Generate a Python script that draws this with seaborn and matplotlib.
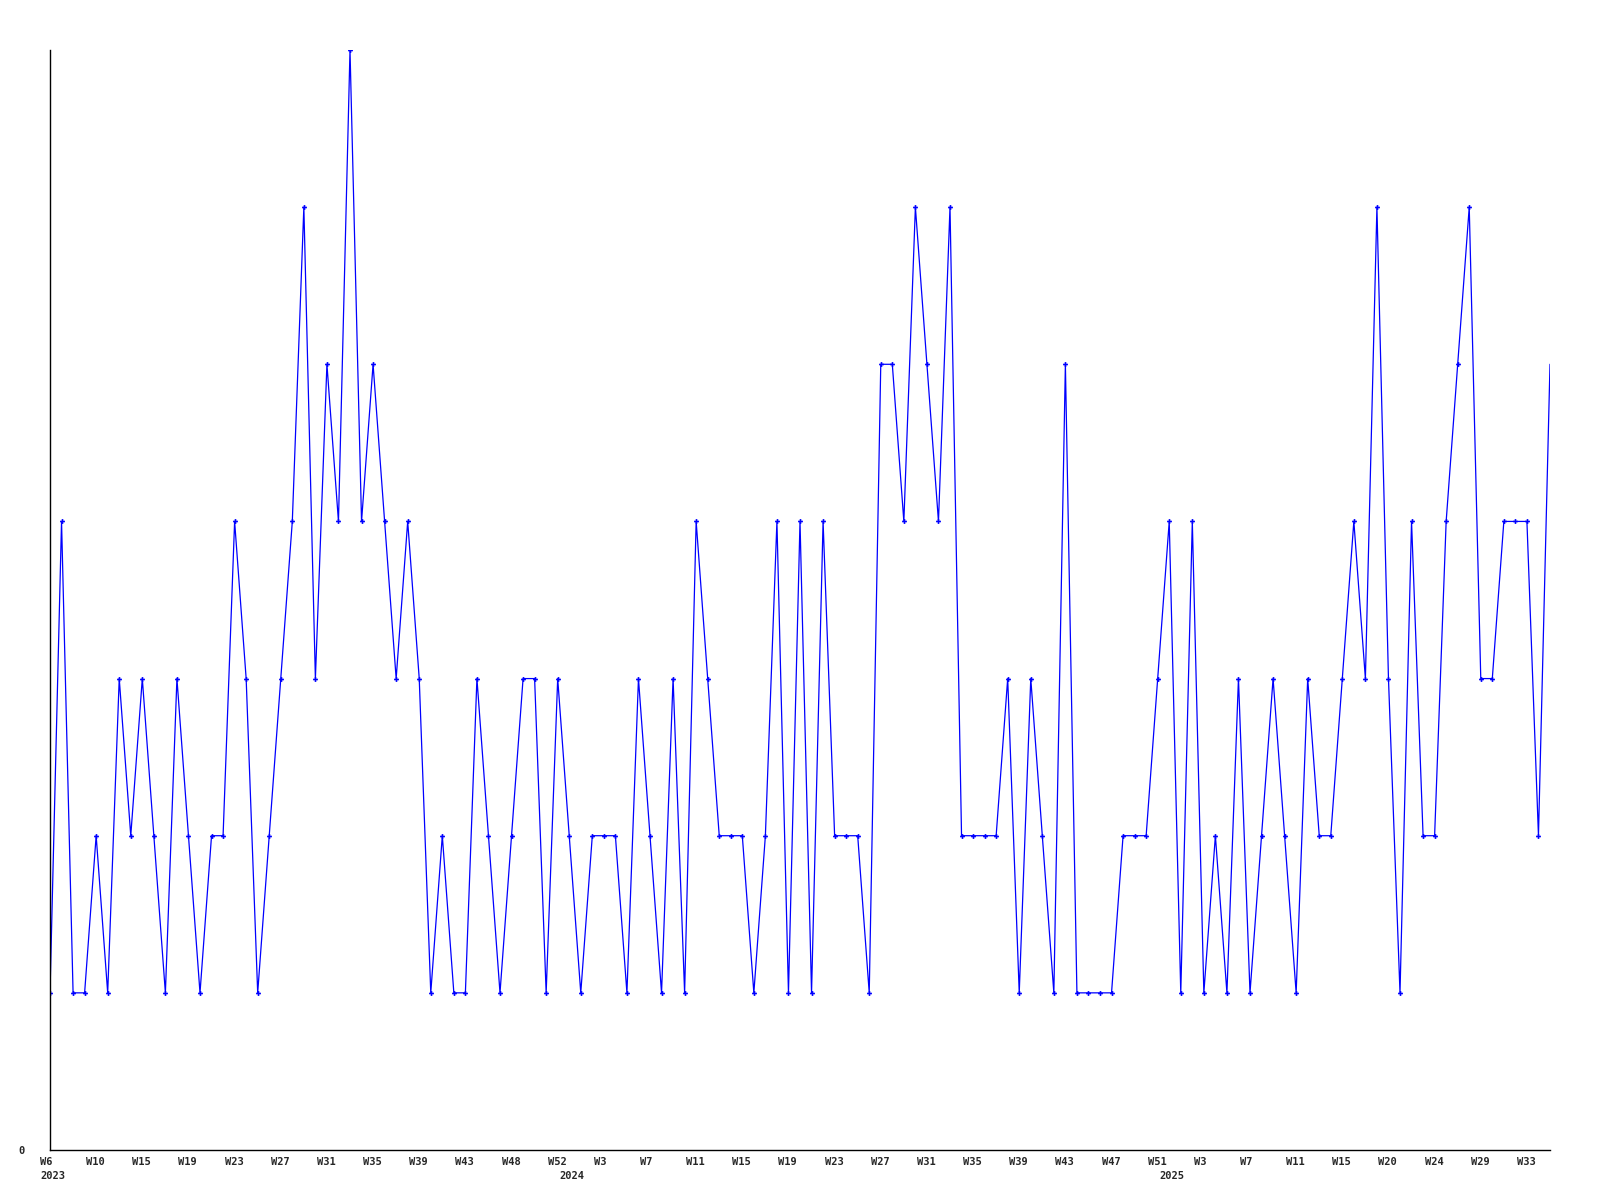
import matplotlib
matplotlib.use("Agg")
import matplotlib.pyplot as plt
import numpy as np
import pandas as pd
import seaborn as sns

# weekly counts, first point = 2023 W6
counts = [
    1, 4, 1, 1, 2, 1, 3, 2, 3, 2, 1, 3, 2, 1, 2, 2, 4, 3, 1, 2,
    3, 4, 6, 3, 5, 4, 7, 4, 5, 4, 3, 4, 3, 1, 2, 1, 1, 3, 2, 1,
    2, 3, 3, 1, 3, 2, 1, 2, 2, 2, 1, 3, 2, 1, 3, 1, 4, 3, 2, 2,
    2, 1, 2, 4, 1, 4, 1, 4, 2, 2, 2, 1, 5, 5, 4, 6, 5, 4, 6, 2,
    2, 2, 2, 3, 1, 3, 2, 1, 5, 1, 1, 1, 1, 2, 2, 2, 3, 4, 1, 4,
    1, 2, 1, 3, 1, 2, 3, 2, 1, 3, 2, 2, 3, 4, 3, 6, 3, 1, 4, 2,
    2, 4, 5, 6, 3, 3, 4, 4, 4, 2, 5,
]

week_labels = [
    "W6", "W10", "W15", "W19", "W23", "W27", "W31", "W35", "W39", "W43",
    "W48", "W52", "W3", "W7", "W11", "W15", "W19", "W23", "W27", "W31",
    "W35", "W39", "W43", "W47", "W51", "W3", "W7", "W11", "W15", "W20",
    "W24", "W29", "W33",
]
label_every = 4

years = ["2023", "2024", "2025"]
year_index = [0, 45, 97]

df = pd.DataFrame({"week": np.arange(len(counts)), "count": counts})

sns.set_style("white")
plt.rcParams["font.family"] = ["DejaVu Sans Mono"]
plt.rcParams["font.weight"] = "bold"
plt.rcParams["font.size"] = 7.5

fig = plt.figure(figsize=(16, 12), dpi=100)
ax = fig.add_axes([50 / 1600, 50 / 1200, 1500 / 1600, 1100 / 1200])

sns.lineplot(
    data=df, x="week", y="count", ax=ax,
    color="#0000ff", linewidth=0.9,
    marker="P", markersize=3.5, markeredgewidth=0,
    markevery=list(range(len(counts) - 1)),
)

ax.set_xlim(0, len(counts) - 1)
ax.set_ylim(0, max(counts))

for side in ["top", "right"]:
    ax.spines[side].set_visible(False)
for side in ["left", "bottom"]:
    ax.spines[side].set_color("black")
    ax.spines[side].set_linewidth(1)

# week labels sit left-aligned, starting a little before their tick
ticks = np.arange(len(week_labels)) * label_every
ax.set_xticks(ticks)
ax.set_xticklabels([""] * len(ticks))
ax.tick_params(axis="x", length=0)
for lbl, t in zip(week_labels, ticks):
    ax.annotate(
        lbl, xy=(t, 0), xycoords=("data", "axes fraction"),
        xytext=(-7.2, -8.3), textcoords="offset points",
        ha="left", va="center", fontweight="bold",
    )

for yr, idx in zip(years, year_index):
    ax.annotate(
        yr, xy=(idx, 0), xycoords=("data", "axes fraction"),
        xytext=(-7.2, -18.7), textcoords="offset points",
        ha="left", va="center", fontweight="bold",
    )

ax.set_yticks([0])
ax.set_yticklabels(["0"], fontweight="bold")
ax.tick_params(axis="y", length=0, pad=18)

ax.set_xlabel("")
ax.set_ylabel("")
ax.grid(False)

fig.savefig("out.png", dpi=100)
